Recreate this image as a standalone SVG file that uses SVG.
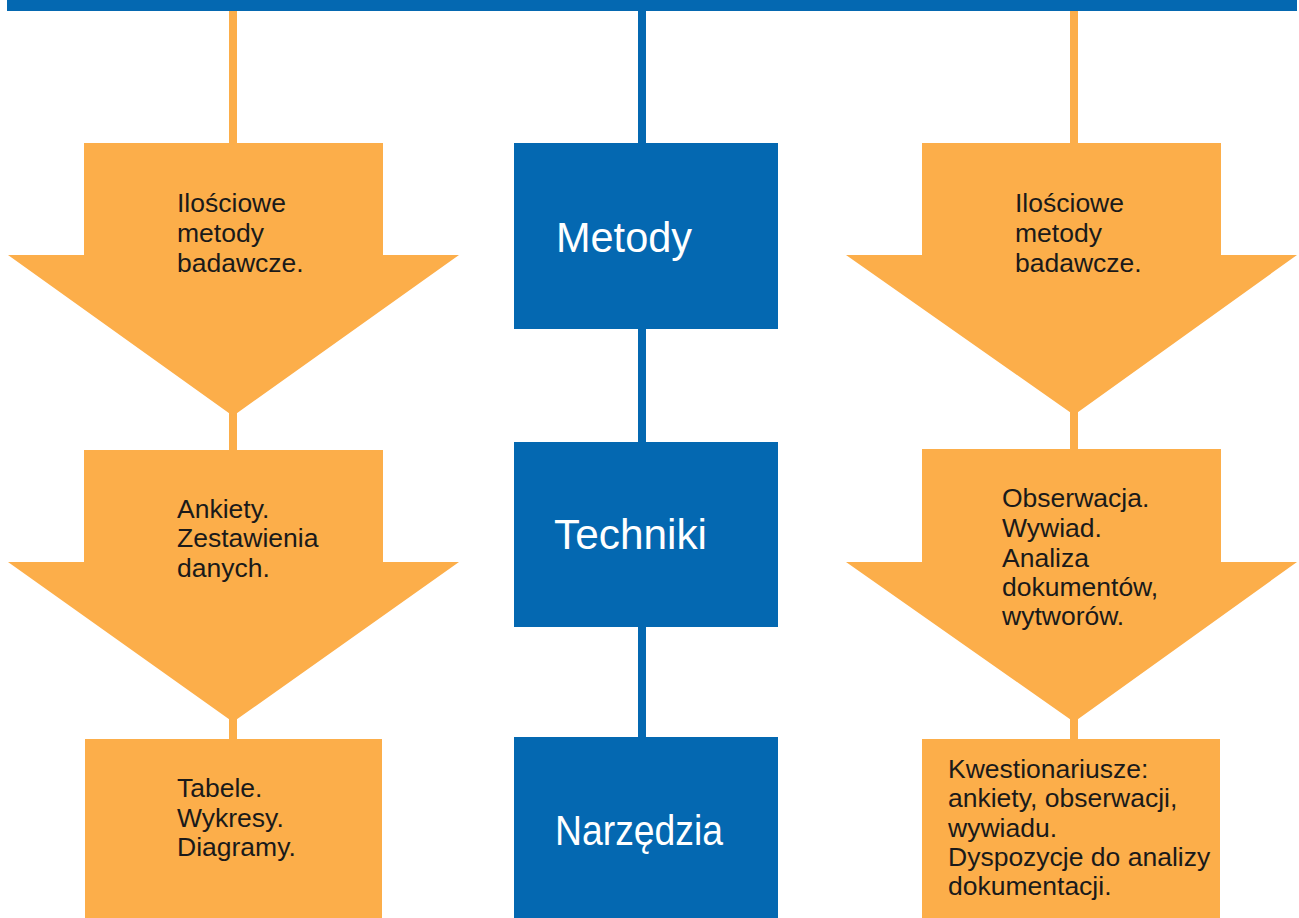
<svg xmlns="http://www.w3.org/2000/svg" width="1299" height="918" viewBox="0 0 1299 918">
<style>
.o{fill:#FCAE4A}
.b{fill:#0468B1}
.co{stroke:#FCAE4A;stroke-width:8;fill:none}
.cb{stroke:#0468B1;stroke-width:8;fill:none}
.t{font-family:"Liberation Sans",Arial,sans-serif;font-size:26.5px;fill:#1a1a1a}
.w{font-family:"Liberation Sans",Arial,sans-serif;font-size:42px;fill:#ffffff}
</style>
<rect width="1299" height="918" fill="#ffffff"/>
<g id="connectors">
<rect x="7" y="0" width="1290" height="11" class="b"/>
<line x1="233" y1="11" x2="233" y2="145" class="co"/>
<line x1="233" y1="410" x2="233" y2="452" class="co"/>
<line x1="233" y1="716" x2="233" y2="741" class="co"/>
<line x1="642" y1="11" x2="642" y2="145" class="cb"/>
<line x1="642" y1="327" x2="642" y2="444" class="cb"/>
<line x1="642" y1="625" x2="642" y2="739" class="cb"/>
<line x1="1074" y1="11" x2="1074" y2="145" class="co"/>
<line x1="1074" y1="410" x2="1074" y2="451" class="co"/>
<line x1="1074" y1="716" x2="1074" y2="741" class="co"/>
</g>
<g id="left-arrow-1">
<polygon class="o" points="84,143 383,143 383,255 459,255 233,416 8,255 84,255"/>
<text class="t" x="177" y="212">Ilościowe</text>
<text class="t" x="177" y="242">metody</text>
<text class="t" x="177" y="272">badawcze.</text>
</g>
<g id="left-arrow-2">
<polygon class="o" points="84,450 383,450 383,562 459,562 233,722 8,562 84,562"/>
<text class="t" x="177" y="518">Ankiety.</text>
<text class="t" x="177" y="547">Zestawienia</text>
<text class="t" x="177" y="577">danych.</text>
</g>
<g id="left-box-3">
<rect class="o" x="85" y="739" width="297" height="179"/>
<text class="t" x="177" y="797">Tabele.</text>
<text class="t" x="177" y="827">Wykresy.</text>
<text class="t" x="177" y="856">Diagramy.</text>
</g>
<g id="metody">
<rect class="b" x="514" y="143" width="264" height="186"/>
<text class="w" x="556" y="252" textLength="136" lengthAdjust="spacingAndGlyphs">Metody</text>
</g>
<g id="techniki">
<rect class="b" x="514" y="442" width="264" height="185"/>
<text class="w" x="554" y="549" textLength="153" lengthAdjust="spacingAndGlyphs">Techniki</text>
</g>
<g id="narzedzia">
<rect class="b" x="514" y="737" width="264" height="181"/>
<text class="w" x="555" y="845" textLength="168" lengthAdjust="spacingAndGlyphs">Narzędzia</text>
</g>
<g id="right-arrow-1">
<polygon class="o" points="922,143 1221,143 1221,255 1297,255 1074,415 846,255 922,255"/>
<text class="t" x="1015" y="212">Ilościowe</text>
<text class="t" x="1015" y="242">metody</text>
<text class="t" x="1015" y="272">badawcze.</text>
</g>
<g id="right-arrow-2">
<polygon class="o" points="922,449 1221,449 1221,562 1297,562 1074,722 846,562 922,562"/>
<text class="t" x="1002" y="507">Obserwacja.</text>
<text class="t" x="1002" y="537">Wywiad.</text>
<text class="t" x="1002" y="567">Analiza</text>
<text class="t" x="1002" y="596">dokumentów,</text>
<text class="t" x="1002" y="625">wytworów.</text>
</g>
<g id="right-box-3">
<rect class="o" x="922" y="739" width="298" height="179"/>
<text class="t" x="948" y="778">Kwestionariusze:</text>
<text class="t" x="948" y="807">ankiety, obserwacji,</text>
<text class="t" x="948" y="837">wywiadu.</text>
<text class="t" x="948" y="866">Dyspozycje do analizy</text>
<text class="t" x="948" y="895">dokumentacji.</text>
</g>
</svg>
